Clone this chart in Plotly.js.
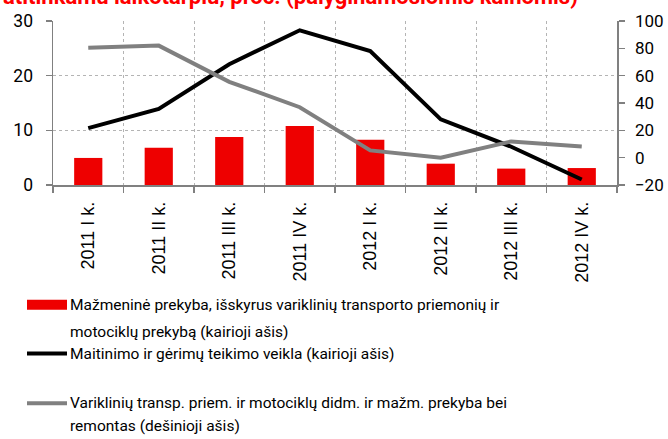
<!DOCTYPE html>
<html>
<head>
<meta charset="utf-8">
<script src="https://cdn.plot.ly/plotly-3.0.1.min.js"></script>
<style>html,body{margin:0;padding:0;background:#fff;}#chart{width:668px;height:439px;}</style>
</head>
<body>
<div id="chart"></div>
<script>
var categories = ["2011 I k.", "2011 II k.", "2011 III k.", "2011 IV k.", "2012 I k.", "2012 II k.", "2012 III k.", "2012 IV k."];
var retail = [4.95, 6.8, 8.8, 10.8, 8.3, 3.9, 3.0, 3.1];
var food = [10.4, 13.9, 22.1, 28.3, 24.5, 12.0, 7.0, 1.0];
var motor = [80.5, 82, 55.5, 36.9, 5.3, 0, 11.9, 8.2];
var leftTicks = [0, 10, 20, 30];
var rightTicks = [-20, 0, 20, 40, 60, 80, 100];
var titleText = "atitinkamu laikotarpiu, proc. (palyginamosiomis kainomis)";
var legendLines = [
  "Mažmeninė prekyba, išskyrus variklinių transporto priemonių ir",
  "motociklų prekybą (kairioji ašis)",
  "Maitinimo ir gėrimų teikimo veikla (kairioji ašis)",
  "Variklinių transp. priem. ir motociklų didm. ir mažm. prekyba bei",
  "remontas (dešinioji ašis)"
];

var FONT = "Roboto, 'Open Sans', sans-serif";
var XFONT = "'Liberation Sans', Arial, sans-serif";
var L = 53, R = 617, T = 20.5, B = 185.5;
function px(x){ return (x - L) / (R - L); }
function py(y){ return (B - y) / (B - T); }

var traces = [
  {type: 'bar', x: categories, y: retail, name: legendLines[0], marker: {color: '#EE0000'}, width: 0.4, yaxis: 'y', showlegend: false},
  {type: 'scatter', mode: 'lines', x: categories, y: food, name: legendLines[2], line: {color: '#000000', width: 4}, yaxis: 'y', showlegend: false},
  {type: 'scatter', mode: 'lines', x: categories, y: motor, name: legendLines[3], line: {color: '#808080', width: 4}, yaxis: 'y2', showlegend: false}
];

var textY = [306.5, 333, 356, 405, 427.5];
var annotations = [
  {xref: 'paper', yref: 'paper', x: px(1), y: py(10.5), xanchor: 'left', yanchor: 'bottom', text: '<b>' + titleText + '</b>', showarrow: false, font: {family: FONT, size: 22, color: '#FF0000'}}
];
for (var i = 0; i < legendLines.length; i++) {
  annotations.push({xref: 'paper', yref: 'paper', x: px(68), y: py(textY[i]), xanchor: 'left', yanchor: 'middle', text: legendLines[i], showarrow: false, font: {family: FONT, size: 15.5, color: '#000'}});
}
var shapes = [
  {type: 'rect', xref: 'paper', yref: 'paper', x0: px(27), x1: px(67), y0: py(301), y1: py(311), fillcolor: '#EE0000', line: {width: 0}},
  {type: 'line', xref: 'paper', yref: 'paper', x0: px(27), x1: px(67), y0: py(355), y1: py(355), line: {color: '#000', width: 4}},
  {type: 'line', xref: 'paper', yref: 'paper', x0: px(27), x1: px(67), y0: py(405), y1: py(405), line: {color: '#808080', width: 4}}
];

var layout = {
  width: 668, height: 439,
  margin: {l: L, r: 668 - R, t: T, b: 439 - B, pad: 0},
  paper_bgcolor: '#fff', plot_bgcolor: '#fff',
  showlegend: false,
  font: {family: FONT, size: 17, color: '#000'},
  xaxis: {
    type: 'category', tickangle: -90, tickson: 'boundaries', ticks: 'outside', ticklen: 6, tickcolor: '#808080', tickwidth: 1.5,
    showline: true, linecolor: '#808080', linewidth: 1.5,
    showgrid: true, gridcolor: '#B4B4B4', griddash: 'dot', gridwidth: 1,
    tickfont: {family: XFONT, size: 18, color: '#000'}, ticklabelstandoff: 8, automargin: false
  },
  yaxis: {
    range: [0, 30], tickvals: leftTicks, ticks: 'outside', ticklen: 6, tickcolor: '#808080', tickwidth: 1.5,
    showline: true, linecolor: '#808080', linewidth: 1.5, zeroline: false,
    showgrid: true, gridcolor: '#B4B4B4', griddash: 'dot', gridwidth: 1,
    tickfont: {family: FONT, size: 17.5}, ticklabelstandoff: 9, automargin: false
  },
  yaxis2: {
    overlaying: 'y', side: 'right', range: [-20, 100], tickvals: rightTicks, ticks: 'outside', ticklen: 6, tickcolor: '#808080', tickwidth: 1.5,
    showline: true, linecolor: '#808080', linewidth: 1.5, zeroline: false, showgrid: false,
    tickfont: {family: FONT, size: 17}, ticklabelstandoff: 7, automargin: false
  },
  bargap: 0.6,
  annotations: annotations,
  shapes: shapes
};

Plotly.newPlot('chart', traces, layout, {displayModeBar: false, staticPlot: true});
</script>
</body>
</html>
